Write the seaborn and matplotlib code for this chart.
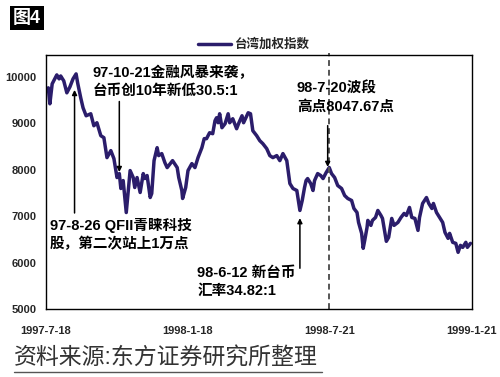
# -*- coding: utf-8 -*-
"""
Taiwan weighted index (台湾加权指数), 1997-7 to 1999-1, with event notes.
"""

#%% Import packages
import pandas as pd
import numpy as np
import seaborn as sns
import matplotlib.pyplot as plt
from matplotlib.lines import Line2D

#%% Data
dates = ['1997-07-21','1997-07-23','1997-07-26','1997-08-01','1997-08-04','1997-08-06',
         '1997-08-10','1997-08-14','1997-08-18','1997-08-22','1997-08-26','1997-08-28',
         '1997-09-01','1997-09-04','1997-09-08','1997-09-14','1997-09-18','1997-09-22',
         '1997-09-27','1997-10-01','1997-10-05','1997-10-10','1997-10-14','1997-10-18',
         '1997-10-21','1997-10-23','1997-10-26','1997-10-30','1997-11-04','1997-11-08',
         '1997-11-10','1997-11-13','1997-11-17','1997-11-21','1997-11-23','1997-11-26',
         '1997-11-30','1997-12-02','1997-12-05','1997-12-09','1997-12-11','1997-12-15',
         '1997-12-19','1997-12-22','1997-12-26','1997-12-29','1998-01-04','1998-01-06',
         '1998-01-10','1998-01-11','1998-01-15','1998-01-18','1998-01-23','1998-01-27',
         '1998-01-31','1998-02-05','1998-02-08','1998-02-11','1998-02-15','1998-02-19',
         '1998-02-22','1998-02-24','1998-02-26','1998-02-28','1998-03-03','1998-03-07',
         '1998-03-11','1998-03-13','1998-03-17','1998-03-22','1998-03-25','1998-03-29',
         '1998-03-31','1998-04-06','1998-04-09','1998-04-12','1998-04-17','1998-04-21',
         '1998-04-25','1998-04-30','1998-05-04','1998-05-08','1998-05-13','1998-05-17',
         '1998-05-21','1998-05-26','1998-05-30','1998-06-03','1998-06-08','1998-06-12',
         '1998-06-15','1998-06-18','1998-06-20','1998-06-22','1998-06-26','1998-06-29',
         '1998-07-01','1998-07-05','1998-07-09','1998-07-12','1998-07-16','1998-07-20',
         '1998-07-23','1998-07-27','1998-07-31','1998-08-05','1998-08-09','1998-08-13',
         '1998-08-18','1998-08-21','1998-08-25','1998-08-27','1998-08-31','1998-09-02',
         '1998-09-04','1998-09-07','1998-09-08','1998-09-12','1998-09-14','1998-09-18',
         '1998-09-21','1998-09-25','1998-09-27','1998-10-02','1998-10-05','1998-10-09',
         '1998-10-12','1998-10-17','1998-10-21','1998-10-25','1998-10-28','1998-11-01',
         '1998-11-04','1998-11-08','1998-11-12','1998-11-14','1998-11-18','1998-11-23',
         '1998-11-26','1998-11-30','1998-12-02','1998-12-06','1998-12-10','1998-12-14',
         '1998-12-17','1998-12-21','1998-12-23','1998-12-27','1998-12-31','1999-01-03',
         '1999-01-06','1999-01-09','1999-01-13','1999-01-15','1999-01-19']
index_vals = [9764, 9420, 9850, 10043, 9957, 10020,
              9914, 9657, 9785, 9957, 10064, 9871,
              9549, 9335, 9163, 9206, 8948, 9013,
              8734, 8691, 8262, 8412, 8240, 7833,
              7918, 7597, 7768, 7080, 7983, 7833,
              7618, 7833, 7511, 7918, 7811, 7876,
              7403, 7489, 8197, 8476, 8305, 8348,
              8155, 8047, 8133, 8197, 8047, 7833,
              7554, 7382, 7618, 7983, 8133, 8047,
              8262, 8476, 8670, 8670, 8798, 8777,
              9056, 9120, 9013, 9206, 8906, 8991,
              9206, 9013, 9099, 8884, 9013, 9163,
              9013, 9227, 9206, 8841, 8734, 8627,
              8562, 8455, 8305, 8262, 8305, 8197,
              8348, 8197, 7704, 7597, 7554, 7124,
              7339, 7618, 7768, 7811, 7704, 7554,
              7768, 7918, 7876, 7811, 7940, 8048,
              7918, 7833, 7661, 7597, 7446, 7382,
              7339, 7167, 7081, 6867, 6631, 6309,
              6481, 6760, 6910, 6803, 6910, 6974,
              7124, 7017, 6953, 6460, 6545, 6953,
              6803, 6867, 6974, 7060, 7017, 7189,
              6974, 6953, 6695, 6974, 7275, 7403,
              7275, 7167, 7275, 7081, 6974, 6867,
              6652, 6524, 6631, 6438, 6416, 6223,
              6373, 6330, 6438, 6330, 6416]

tick_dates  = ['1997-07-18', '1998-01-18', '1998-07-21', '1999-01-21']
tick_labels = ['1997-7-18', '1998-1-18', '1998-7-21', '1999-1-21']
yticks      = [5000, 6000, 7000, 8000, 9000, 10000]
series_name = '台湾加权指数'

# notes: text, arrow date, arrow tip value, arrow tail value, text anchor (date, value)
notes = [
    ('97-10-21金融风暴来袭，\n台币创10年新低30.5:1', '1997-10-21', 7950, 9470, '1997-09-16', 10240),
    ('97-8-26 QFII青睐科技\n股，第二次站上1万点', '1997-08-24', 9720, 7070, '1997-07-23', 6960),
    ('98-7-20波段\n高点8047.67点', '1998-07-18', 8060, 8950, '1998-06-08', 9900),
    ('98-6-12 新台币\n汇率34.82:1', '1998-06-12', 6960, 5880, '1998-01-30', 5930),
]

df = pd.DataFrame({'date': pd.to_datetime(dates), 'value': index_vals})

#%% Figure
sns.set_style('white')
plt.rcParams['font.family'] = ['Liberation Sans', 'Noto Sans CJK SC', 'DejaVu Sans']

fig, ax = plt.subplots(figsize=(5, 3.77), dpi=100)
plt.subplots_adjust(left=0.092, right=0.944, top=0.854, bottom=0.180)

sns.lineplot(data=df, x='date', y='value', color='#2B1D6B', lw=2.5, label=series_name, ax=ax)

ax.set_xlim(pd.Timestamp('1997-07-18'), pd.Timestamp('1999-01-21'))
ax.set_ylim(5000, 10470)
ax.set_yticks(yticks)
ax.set_yticklabels([str(v) for v in yticks], fontsize=8, fontweight='bold')
ax.set_xticks(pd.to_datetime(tick_dates))
ax.set_xticklabels(tick_labels, fontsize=8, fontweight='bold')
ax.tick_params(axis='x', direction='in', length=3, pad=12, color='#555555')
ax.tick_params(axis='y', length=0, pad=7)
ax.set_xlabel('')
ax.set_ylabel('')
for sp in ax.spines.values():
    sp.set_color('black')
    sp.set_linewidth(1.0)

# dashed line at the 98-7-20 peak
ax.axvline(pd.Timestamp('1998-07-20'), ymin=0, ymax=1.01, color='#555555', lw=1.4,
           dashes=(3, 2), clip_on=False)

for txt, adate, tip, tail, tdate, tval in notes:
    ax.annotate('', xy=(pd.Timestamp(adate), tip), xytext=(pd.Timestamp(adate), tail),
                arrowprops=dict(arrowstyle='-|>', color='black', lw=1.1,
                                mutation_scale=7, shrinkA=0, shrinkB=0))
    ax.text(pd.Timestamp(tdate), tval, txt, fontsize=10.5, fontweight='bold',
            ha='left', va='top', linespacing=1.35, color='black')

ax.legend(loc='center', bbox_to_anchor=(0.508, 0.881), bbox_transform=fig.transFigure,
          frameon=False, handlelength=2.6, handletextpad=0.3, prop={'size': 9, 'weight': 'bold'})

# figure label and source line
fig.text(0.026, 0.952, '图4', fontsize=13, fontweight='bold', color='white', va='center',
         ha='left', bbox=dict(facecolor='black', edgecolor='none', pad=2.5))
fig.text(0.028, 0.05, '资料来源:东方证券研究所整理', fontsize=16.5, color='#333333',
         fontweight='light', ha='left', va='center')
fig.add_artist(Line2D([0.028, 0.644], [0.013, 0.013], color='#555555', lw=1.0))

fig.savefig('out.png', dpi=100)
